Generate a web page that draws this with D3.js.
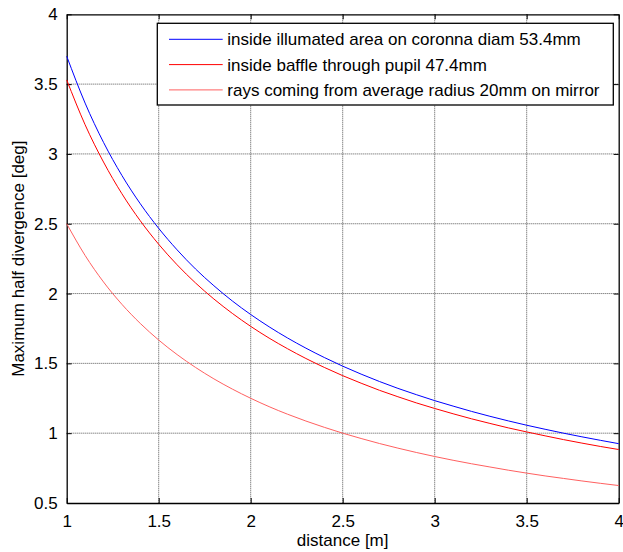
<!DOCTYPE html>
<html><head><meta charset="utf-8">
<script src="https://cdn.jsdelivr.net/npm/d3@7"></script>
<style>body{margin:0;background:#fff;} text{font-family:Arial,"Liberation Sans",Helvetica,sans-serif;}</style>
</head><body><svg id="c" width="623" height="552"></svg>
<script>
const distance = [1.0,1.1,1.2,1.3,1.4,1.5,1.6,1.7,1.8,1.9,2.0,2.1,2.2,2.3,2.4,2.5,2.6,2.7,2.8,2.9,3.0,3.1,3.2,3.3,3.4,3.5,3.6,3.7,3.8,3.9,4.0];
const coronna = [3.70,3.364,3.083,2.846,2.643,2.467,2.313,2.176,2.056,1.947,1.85,1.762,1.682,1.609,1.542,1.48,1.423,1.370,1.321,1.276,1.233,1.194,1.156,1.121,1.088,1.057,1.028,1.0,0.974,0.949,0.925];
const baffle = [3.53,3.209,2.942,2.715,2.521,2.353,2.206,2.076,1.961,1.858,1.765,1.681,1.605,1.535,1.471,1.412,1.358,1.307,1.261,1.217,1.177,1.139,1.103,1.070,1.038,1.009,0.981,0.954,0.929,0.905,0.883];
const mirror = [2.50,2.273,2.083,1.923,1.786,1.667,1.563,1.471,1.389,1.316,1.25,1.190,1.136,1.087,1.042,1.0,0.962,0.926,0.893,0.862,0.833,0.806,0.781,0.758,0.735,0.714,0.694,0.676,0.658,0.641,0.625];
const xTicks = [1,1.5,2,2.5,3,3.5,4];
const yTicks = [0.5,1,1.5,2,2.5,3,3.5,4];
const seriesNames = ["inside illumated area on coronna diam 53.4mm","inside baffle through pupil 47.4mm","rays coming from average radius 20mm on mirror"];
const seriesColors = ["#0000ff","#ff0000","#ff6060"];
const seriesValues = [coronna, baffle, mirror];

const svg = d3.select("#c");
const L=66.7, R=618.7, T=14.3, B=503;
const x = d3.scaleLinear().domain([1,4]).range([L,R]);
const y = d3.scaleLinear().domain([0.5,4]).range([B,T]);
const fs = 17;

// grid
const g = svg.append("g");
g.selectAll(".gx").data(xTicks.slice(1,-1)).join("line")
  .attr("x1",d=>x(d)).attr("x2",d=>x(d)).attr("y1",T).attr("y2",B)
  .attr("stroke","#555").attr("stroke-width",1).attr("stroke-dasharray","1,1");
g.selectAll(".gy").data(yTicks.slice(1,-1)).join("line")
  .attr("y1",d=>y(d)).attr("y2",d=>y(d)).attr("x1",L).attr("x2",R)
  .attr("stroke","#555").attr("stroke-width",1).attr("stroke-dasharray","1,1");

// axes with inward ticks
const ax = svg.append("g").attr("transform",`translate(0,${B})`)
  .call(d3.axisBottom(x).tickValues(xTicks).tickSizeInner(-5).tickSizeOuter(0).tickPadding(12).tickFormat(d3.format("")));
const axT = svg.append("g").attr("transform",`translate(0,${T})`)
  .call(d3.axisTop(x).tickValues(xTicks).tickSizeInner(-5).tickSizeOuter(0).tickFormat(""));
const ay = svg.append("g").attr("transform",`translate(${L},0)`)
  .call(d3.axisLeft(y).tickValues(yTicks).tickSizeInner(-5).tickSizeOuter(0).tickPadding(9).tickFormat(d3.format("")));
const ayR = svg.append("g").attr("transform",`translate(${R},0)`)
  .call(d3.axisRight(y).tickValues(yTicks).tickSizeInner(-5).tickSizeOuter(0).tickFormat(""));
[ax,axT,ay,ayR].forEach(a=>{
  a.selectAll(".domain").attr("stroke","#000").attr("stroke-width",1.3);
  a.selectAll(".tick line").attr("stroke","#000");
  a.selectAll("text").attr("font-size",fs).attr("fill","#000").attr("font-family","Arial, 'Liberation Sans', sans-serif");
});
ax.selectAll("text").attr("dy","0.71em");

// lines
const line = d3.line().x((d,i)=>x(distance[i])).y(d=>y(d)).curve(d3.curveMonotoneX);
const plot = svg.append("g");
seriesValues.forEach((vals,k)=>{
  plot.append("path").attr("d",line(vals)).attr("fill","none")
    .attr("stroke",seriesColors[k]).attr("stroke-width",1);
});

// axis titles
svg.append("text").attr("x",(L+R)/2).attr("y",546).attr("text-anchor","middle")
  .attr("font-size",fs).text("distance [m]");
svg.append("text").attr("transform",`translate(24,${(T+B)/2}) rotate(-90)`).attr("text-anchor","middle")
  .attr("font-size",fs).text("Maximum half divergence [deg]");

// legend
const lg = svg.append("g");
lg.append("rect").attr("x",157.3).attr("y",23.3).attr("width",456).attr("height",81.7)
  .attr("fill","#fff").attr("stroke","#000").attr("stroke-width",1.3);
seriesNames.forEach((n,k)=>{
  const yy = 39.3 + k*25.3;
  lg.append("line").attr("x1",169).attr("x2",222.7).attr("y1",yy).attr("y2",yy)
    .attr("stroke",seriesColors[k]).attr("stroke-width",1);
  lg.append("text").attr("x",227.3).attr("y",yy).attr("dy","0.35em").attr("font-size",fs).text(n);
});
</script></body></html>
